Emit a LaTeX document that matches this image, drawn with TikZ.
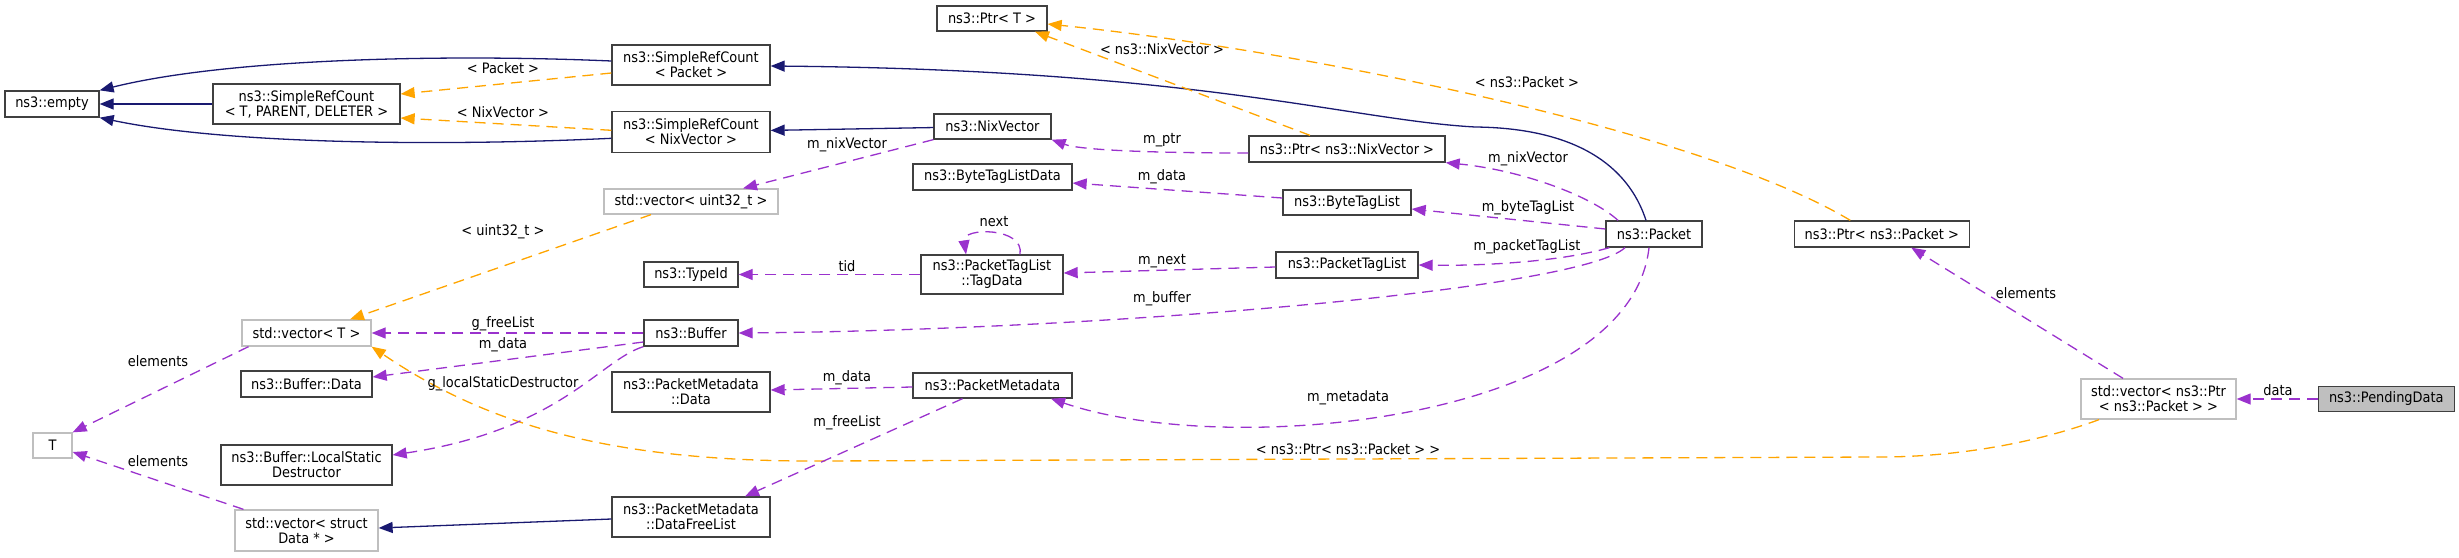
\documentclass[tikz,border=0pt]{standalone}
\usepackage{fontspec}
\setmainfont{DejaVu Sans Condensed}
\usetikzlibrary{arrows.meta,positioning}

\definecolor{inhcol}{HTML}{191970}
\definecolor{tplcol}{HTML}{FFA500}
\definecolor{usecol}{HTML}{9A32CD}
\definecolor{boxcol}{HTML}{404040}
\definecolor{extcol}{HTML}{BFBFBF}

\begin{document}
\begin{tikzpicture}[
  x=1pt, y=-1pt,
  every node/.style={font=\fontsize{14.4}{15}\selectfont},
  cls/.style={rectangle, draw=boxcol, line width=1.3pt, fill=white, align=center, inner sep=0pt},
  ext/.style={cls, draw=extcol},
  cur/.style={cls, fill=extcol},
  lbl/.style={inner sep=0pt},
  inh/.style={-{Triangle[length=14pt,width=11pt]}, draw=inhcol, line width=1.3pt},
  tpl/.style={inh, draw=tplcol, dash pattern=on 11pt off 7pt},
  use/.style={inh, draw=usecol, dash pattern=on 11pt off 7pt}
]
  \useasboundingbox (0,0) rectangle (2459,557);

  % classes
  \node[cls, minimum width=94pt, minimum height=26pt] (empty) at (52,104) {ns3::empty};
  \node[cls, minimum width=187pt, minimum height=40pt] (srcT) at (306.5,104) {ns3::SimpleRefCount\\< T, PARENT, DELETER >};
  \node[cls, minimum width=158pt, minimum height=40pt] (srcPkt) at (691,65) {ns3::SimpleRefCount\\< Packet >};
  \node[cls, minimum width=158pt, minimum height=41pt, below=25pt of srcPkt] (srcNix) {ns3::SimpleRefCount\\< NixVector >};
  \node[ext, minimum width=174pt, minimum height=25pt] (vecU32) at (691,201.5) {std::vector< uint32\_t >};
  \node[cls, minimum width=94pt, minimum height=25pt] (typeId) at (691,274.5) {ns3::TypeId};
  \node[cls, minimum width=110pt, minimum height=25pt] (ptrT) at (992,18.5) {ns3::Ptr< T >};
  \node[cls, minimum width=117pt, minimum height=25pt] (nixVec) at (992.5,126.5) {ns3::NixVector};
  \node[cls, minimum width=196pt, minimum height=26pt] (ptrNix) at (1347,149) {ns3::Ptr< ns3::NixVector >};
  \node[cls, minimum width=159pt, minimum height=26pt] (btlData) at (992.5,177) {ns3::ByteTagListData};
  \node[cls, minimum width=128pt, minimum height=25pt] (btl) at (1347,202.5) {ns3::ByteTagList};
  \node[cls, minimum width=142pt, minimum height=39pt] (tagData) at (992,274.5) {ns3::PacketTagList\\::TagData};
  \node[cls, minimum width=142pt, minimum height=26pt] (ptl) at (1347,265) {ns3::PacketTagList};
  \node[cls, minimum width=96pt, minimum height=26pt] (packet) at (1654,234) {ns3::Packet};
  \node[cls, minimum width=175pt, minimum height=26pt, right=91pt of packet] (ptrPkt) {ns3::Ptr< ns3::Packet >};
  \node[ext, minimum width=129pt, minimum height=26pt] (vecT) at (306.5,333) {std::vector< T >};
  \node[cls, minimum width=94pt, minimum height=26pt] (buffer) at (691,333) {ns3::Buffer};
  \node[cls, minimum width=131pt, minimum height=26pt] (bufData) at (306.5,384) {ns3::Buffer::Data};
  \node[cls, minimum width=158pt, minimum height=40pt] (pmData) at (691,392) {ns3::PacketMetadata\\::Data};
  \node[ext, minimum width=39pt, minimum height=25pt] (tNode) at (52.5,445.5) {T};
  \node[cls, minimum width=171pt, minimum height=40pt] (lsd) at (306.5,465) {ns3::Buffer::LocalStatic\\Destructor};
  \node[ext, minimum width=143pt, minimum height=41pt] (vecData) at (306.5,530.5) {std::vector< struct\\Data * >};
  \node[cls, minimum width=158pt, minimum height=40pt] (dfl) at (691,517) {ns3::PacketMetadata\\::DataFreeList};
  \node[cls, minimum width=159pt, minimum height=25pt] (pm) at (992.5,385.5) {ns3::PacketMetadata};
  \node[ext, minimum width=155pt, minimum height=40pt] (vecPtr) at (2158.5,399) {std::vector< ns3::Ptr\\< ns3::Packet > >};
  \node[cur, minimum width=136pt, minimum height=25pt, right=81pt of vecPtr] (pending) {ns3::PendingData};

  % inheritance
  \draw[inh] ([yshift=4pt]srcPkt.west) .. controls (450,54) and (230,58) .. (empty.north east);
  \draw[inh] (srcT) -- (empty);
  \draw[inh] ([yshift=-6.5pt]srcNix.west) .. controls (450,146) and (230,145) .. (empty.south east);
  \draw[inh] (nixVec) -- (srcNix);
  \draw[inh] ([xshift=-8pt]packet.north) .. controls (1628,165) and (1575,128) .. (1475,127)
    .. controls (1350,120) and (1200,70) .. ([yshift=-1pt]srcPkt.east);
  \draw[inh] ([yshift=-2pt]dfl.west) -- ([yshift=2.5pt]vecData.east);

  % template instances
  \draw[tpl] ([yshift=-8pt]srcPkt.west) -- ([yshift=10pt]srcT.east) node[lbl] at (503,68) {< Packet >};
  \draw[tpl] ([yshift=1.5pt]srcNix.west) -- ([yshift=-14pt]srcT.east) node[lbl] at (503,112) {< NixVector >};
  \draw[tpl] ([xshift=-37pt]ptrNix.north) -- ([xshift=43pt]ptrT.south) node[lbl] at (1162,49) {< ns3::NixVector >};
  \draw[tpl] ([xshift=-31.5pt]ptrPkt.north) .. controls (1700,130) and (1300,50) .. ([yshift=-5.5pt]ptrT.east)
    node[lbl] at (1527,82) {< ns3::Packet >};
  \draw[tpl] ([xshift=-40pt]vecU32.south) -- ([xshift=43.5pt]vecT.north) node[lbl] at (503,232) {< uint32\_t >};
  \draw[tpl] ([xshift=-59.5pt]vecPtr.south) .. controls (2030,445) and (1950,457) .. (1880,457) -- (820,461)
    .. controls (600,462) and (480,420) .. (vecT.south east) node[lbl] at (1348,449) {< ns3::Ptr< ns3::Packet > >};

  % members
  \draw[use] ([yshift=-4pt]ptrNix.west) .. controls (1150,153) and (1080,150) .. (nixVec.south east)
    node[lbl] at (1162,140) {m\_ptr};
  \draw[use] (nixVec.south west) -- ([xshift=52pt]vecU32.north) node[lbl] at (847,145) {m\_nixVector};
  \draw[use] ([xshift=-36pt]packet.north) .. controls (1590,195) and (1520,170) .. (ptrNix.south east)
    node[lbl] at (1528,159) {m\_nixVector};
  \draw[use] ([yshift=4.5pt]btl.west) -- ([yshift=-6pt]btlData.east) node[lbl] at (1162,177) {m\_data};
  \draw[use] ([yshift=5pt]packet.west) -- ([yshift=-6.5pt]btl.east) node[lbl] at (1528,208) {m\_byteTagList};
  \draw[use] ([xshift=28pt]tagData.north) .. controls (1025,227) and (962,227) .. ([xshift=-26pt]tagData.north)
    node[lbl] at (994,222) {next};
  \draw[use] (tagData) -- (typeId) node[lbl] at (847,266) {tid};
  \draw[use] ([yshift=-2pt]ptl.west) -- ([yshift=1.5pt]tagData.east) node[lbl] at (1162,261) {m\_next};
  \draw[use] ([xshift=4pt]packet.south west) .. controls (1560,262) and (1480,266) .. (ptl.east)
    node[lbl] at (1527,247) {m\_packetTagList};
  \draw[use] ([xshift=-29pt]packet.south) .. controls (1580,290) and (1100,330) .. (buffer.east)
    node[lbl] at (1162,299) {m\_buffer};
  \draw[use] (buffer) -- (vecT) node[lbl] at (503,324) {g\_freeList};
  \draw[use] ([yshift=-9pt]buffer.west) -- ([yshift=7pt]bufData.east) node[lbl] at (503,345) {m\_data};
  \draw[use] (buffer.south west) .. controls (600,360) and (560,430) .. ([yshift=10pt]lsd.east)
    node[lbl] at (503,384) {g\_localStaticDestructor};
  \draw[use] ([xshift=-58pt]vecT.south) -- (tNode.north east) node[lbl] at (158,361) {elements};
  \draw[use] ([xshift=-63pt]vecData.north) -- ([yshift=-6.5pt]tNode.east) node[lbl] at (158,461) {elements};
  \draw[use] ([yshift=-1.5pt]pm.west) -- ([yshift=2pt]pmData.east) node[lbl] at (847,378) {m\_data};
  \draw[use] ([xshift=-30pt]pm.south) -- ([xshift=54pt]dfl.north) node[lbl] at (847,423) {m\_freeList};
  \draw[use] ([xshift=-5pt]packet.south) .. controls (1630,420) and (1230,460) .. ([xshift=58.5pt]pm.south)
    node[lbl] at (1348,398) {m\_metadata};
  \draw[use] ([xshift=-35.5pt]vecPtr.north) -- ([xshift=29.5pt]ptrPkt.south) node[lbl] at (2026,293) {elements};
  \draw[use] (pending) -- (vecPtr) node[lbl] at (2278,390) {data};
\end{tikzpicture}
\end{document}
